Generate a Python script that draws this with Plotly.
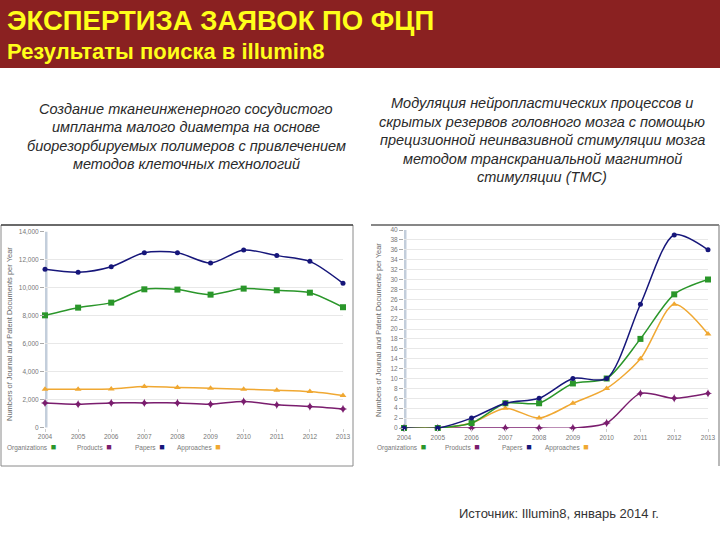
import plotly.graph_objects as go

W, H = 720, 540

# ---------------- data ----------------
years = [2004, 2005, 2006, 2007, 2008, 2009, 2010, 2011, 2012, 2013]

# Left chart: tissue-engineered vascular implant
left_organizations = [8020, 8570, 8930, 9880, 9860, 9500, 9930, 9810, 9640, 8600]
left_products = [1760, 1670, 1760, 1760, 1760, 1670, 1860, 1620, 1500, 1330]
left_papers = [11310, 11100, 11500, 12500, 12500, 11760, 12690, 12290, 11880, 10310]
left_approaches = [2740, 2740, 2760, 2930, 2860, 2810, 2740, 2670, 2570, 2290]

# Right chart: TMS neuroplasticity modulation
right_organizations = [0, 0, 1, 5, 5, 9, 10, 18, 27, 30]
right_products = [0, 0, 0, 0, 0, 0, 1, 7, 6, 7]
right_papers = [0, 0, 2, 5, 6, 10, 10, 25, 39, 36]
right_approaches = [0, 0, 1, 4, 2, 5, 8, 14, 25, 19]

left_ticks = [0, 2000, 4000, 6000, 8000, 10000, 12000, 14000]
right_ticks = list(range(0, 41, 2))

series_names = ["Organizations", "Products", "Papers", "Approaches"]
colors = {"Organizations": "#2a962a", "Products": "#7a1d6e",
          "Papers": "#16167a", "Approaches": "#f0a832"}
symbols = {"Organizations": "square", "Products": "star-diamond",
           "Papers": "circle", "Approaches": "triangle-up"}
sizes = {"Organizations": 6, "Products": 6, "Papers": 5, "Approaches": 6}

title_text = "ЭКСПЕРТИЗА ЗАЯВОК ПО ФЦП"
subtitle_text = "Результаты поиска в illumin8"
left_caption = ["Создание тканеинженерного сосудистого",
                "импланта малого диаметра на основе",
                "биорезорбируемых полимеров с привлечением",
                "методов клеточных технологий"]
right_caption = ["Модуляция нейропластических процессов и",
                 "скрытых резервов головного мозга с помощью",
                 "прецизионной неинвазивной стимуляции мозга",
                 "методом транскраниальной магнитной",
                 "стимуляции (ТМС)"]
source_text = "Источник: Illumin8, январь 2014 г."
ytitle = "Numbers of Journal and Patent Documents per Year"

# ---------------- helpers ----------------
def px(x):
    return x / W

def py(y):
    return 1 - y / H

fig = go.Figure()

left_data = dict(zip(series_names, [left_organizations, left_products, left_papers, left_approaches]))
right_data = dict(zip(series_names, [right_organizations, right_products, right_papers, right_approaches]))

order = ["Products", "Approaches", "Organizations", "Papers"]
for name in order:
    fig.add_trace(go.Scatter(
        x=years, y=left_data[name], mode="lines+markers", name=name,
        line=dict(color=colors[name], width=1.5, shape="spline", smoothing=0.8),
        marker=dict(color=colors[name], symbol=symbols[name], size=sizes[name]),
        cliponaxis=False, showlegend=False, xaxis="x", yaxis="y"))
for name in order:
    fig.add_trace(go.Scatter(
        x=years, y=right_data[name], mode="lines+markers", name=name,
        line=dict(color=colors[name], width=1.5, shape="spline", smoothing=0.8),
        marker=dict(color=colors[name], symbol=symbols[name], size=sizes[name]),
        cliponaxis=False, showlegend=False, xaxis="x2", yaxis="y2"))

tickfont = dict(family="Liberation Sans, Arial, sans-serif", size=6.5, color="#777777")
common_x = dict(range=[years[0], years[-1]], tickmode="array", tickvals=years,
                ticktext=[str(y) for y in years], showgrid=False, zeroline=False,
                showline=False, ticks="outside", ticklen=3, tickcolor="#cccccc",
                tickfont=tickfont, fixedrange=True, automargin=False)
common_y = dict(showgrid=True, gridcolor="#e8e8e8", gridwidth=1, zeroline=False,
                showline=False, ticks="outside", ticklen=4, tickcolor="#aaaaaa",
                tickfont=tickfont, fixedrange=True, automargin=False)

fig.update_layout(
    width=W, height=H, autosize=False,
    margin=dict(l=0, r=0, t=0, b=0, pad=0),
    paper_bgcolor="white", plot_bgcolor="white",
    showlegend=False,
    xaxis=dict(domain=[px(45), px(343)], anchor="y", **common_x),
    yaxis=dict(domain=[py(427.5), py(231.7)], anchor="x", range=[0, 14000],
               tickmode="array", tickvals=left_ticks,
               ticktext=[f"{v:,}" for v in left_ticks], **common_y),
    xaxis2=dict(domain=[px(404), px(708)], anchor="y2", **common_x),
    yaxis2=dict(domain=[py(428), py(230)], anchor="x2", range=[0, 40],
                tickmode="array", tickvals=right_ticks,
                ticktext=[str(v) for v in right_ticks], **common_y),
)

shapes = []
shapes.append(dict(type="rect", xref="paper", yref="paper", x0=0, x1=1,
                   y0=py(68), y1=1, fillcolor="#8a2121", line=dict(width=0), layer="below"))
shapes.append(dict(type="rect", xref="paper", yref="paper", x0=px(1), x1=px(353),
                   y0=py(466), y1=py(225), line=dict(color="#8a8a8a", width=1), layer="below"))
shapes.append(dict(type="line", xref="paper", yref="paper", x0=px(1), x1=px(353),
                   y0=py(225), y1=py(225), line=dict(color="#111111", width=1.2)))
shapes.append(dict(type="line", xref="paper", yref="paper", x0=px(371), x1=px(719),
                   y0=py(225), y1=py(225), line=dict(color="#111111", width=1.2)))
shapes.append(dict(type="line", xref="paper", yref="paper", x0=px(719), x1=px(719),
                   y0=py(225), y1=py(466), line=dict(color="#8a8a8a", width=1.2)))
for xr, yr in (("x", "y domain"), ("x2", "y2 domain")):
    shapes.append(dict(type="line", xref=xr, yref=yr, x0=years[0], x1=years[0],
                       y0=0, y1=1, line=dict(color="#c3cedb", width=5), layer="below"))
fig.update_layout(shapes=shapes)

ann = []
ann.append(dict(text=f"<b>{title_text}</b>", x=px(5), y=py(21), xref="paper", yref="paper",
                xanchor="left", yanchor="middle", showarrow=False,
                font=dict(family="Liberation Sans, Arial, sans-serif", size=27.5, color="#ffff1a")))
ann.append(dict(text=f"<b>{subtitle_text}</b>", x=px(5), y=py(51), xref="paper", yref="paper",
                xanchor="left", yanchor="middle", showarrow=False,
                font=dict(family="Liberation Sans, Arial, sans-serif", size=22, color="#ffff1a")))

cap_font = dict(family="Liberation Sans, Arial, sans-serif", size=14.5, color="#2a2a2a")
for i, line in enumerate(left_caption):
    ann.append(dict(text=f"<i>{line}</i>", x=px(186), y=py(109 + i * 18.4), xref="paper",
                    yref="paper", xanchor="center", yanchor="middle", showarrow=False, font=cap_font))
for i, line in enumerate(right_caption):
    ann.append(dict(text=f"<i>{line}</i>", x=px(542), y=py(103 + i * 18.6), xref="paper",
                    yref="paper", xanchor="center", yanchor="middle", showarrow=False, font=cap_font))

ann.append(dict(text=source_text, x=px(559), y=py(513), xref="paper", yref="paper",
                xanchor="center", yanchor="middle", showarrow=False,
                font=dict(family="Liberation Sans, Arial, sans-serif", size=13, color="#333333")))

yt_font = dict(family="Liberation Sans, Arial, sans-serif", size=7.5, color="#666666")
ann.append(dict(text=ytitle, x=px(9), y=py(334), xref="paper", yref="paper", textangle=-90,
                xanchor="center", yanchor="middle", showarrow=False, font=yt_font))
ann.append(dict(text=ytitle, x=px(378), y=py(330), xref="paper", yref="paper", textangle=-90,
                xanchor="center", yanchor="middle", showarrow=False, font=yt_font))

leg_font = dict(family="Liberation Sans, Arial, sans-serif", size=6.5, color="#777777")
left_leg_x = [5, 75, 133, 175]
right_leg_x = [375, 443, 500, 543]
for xs in (left_leg_x, right_leg_x):
    for x0, name in zip(xs, series_names):
        ann.append(dict(text=f"{name}  <span style='color:{colors[name]};font-size:9px'>■</span>",
                        x=px(x0), y=py(447), xref="paper", yref="paper",
                        xanchor="left", yanchor="middle", showarrow=False, font=leg_font))

fig.update_layout(annotations=ann)

post = ("document.body.style.margin='0px';"
        "document.body.style.padding='0px';")
fig.write_html("out.html", config={"displayModeBar": False}, post_script=post)
